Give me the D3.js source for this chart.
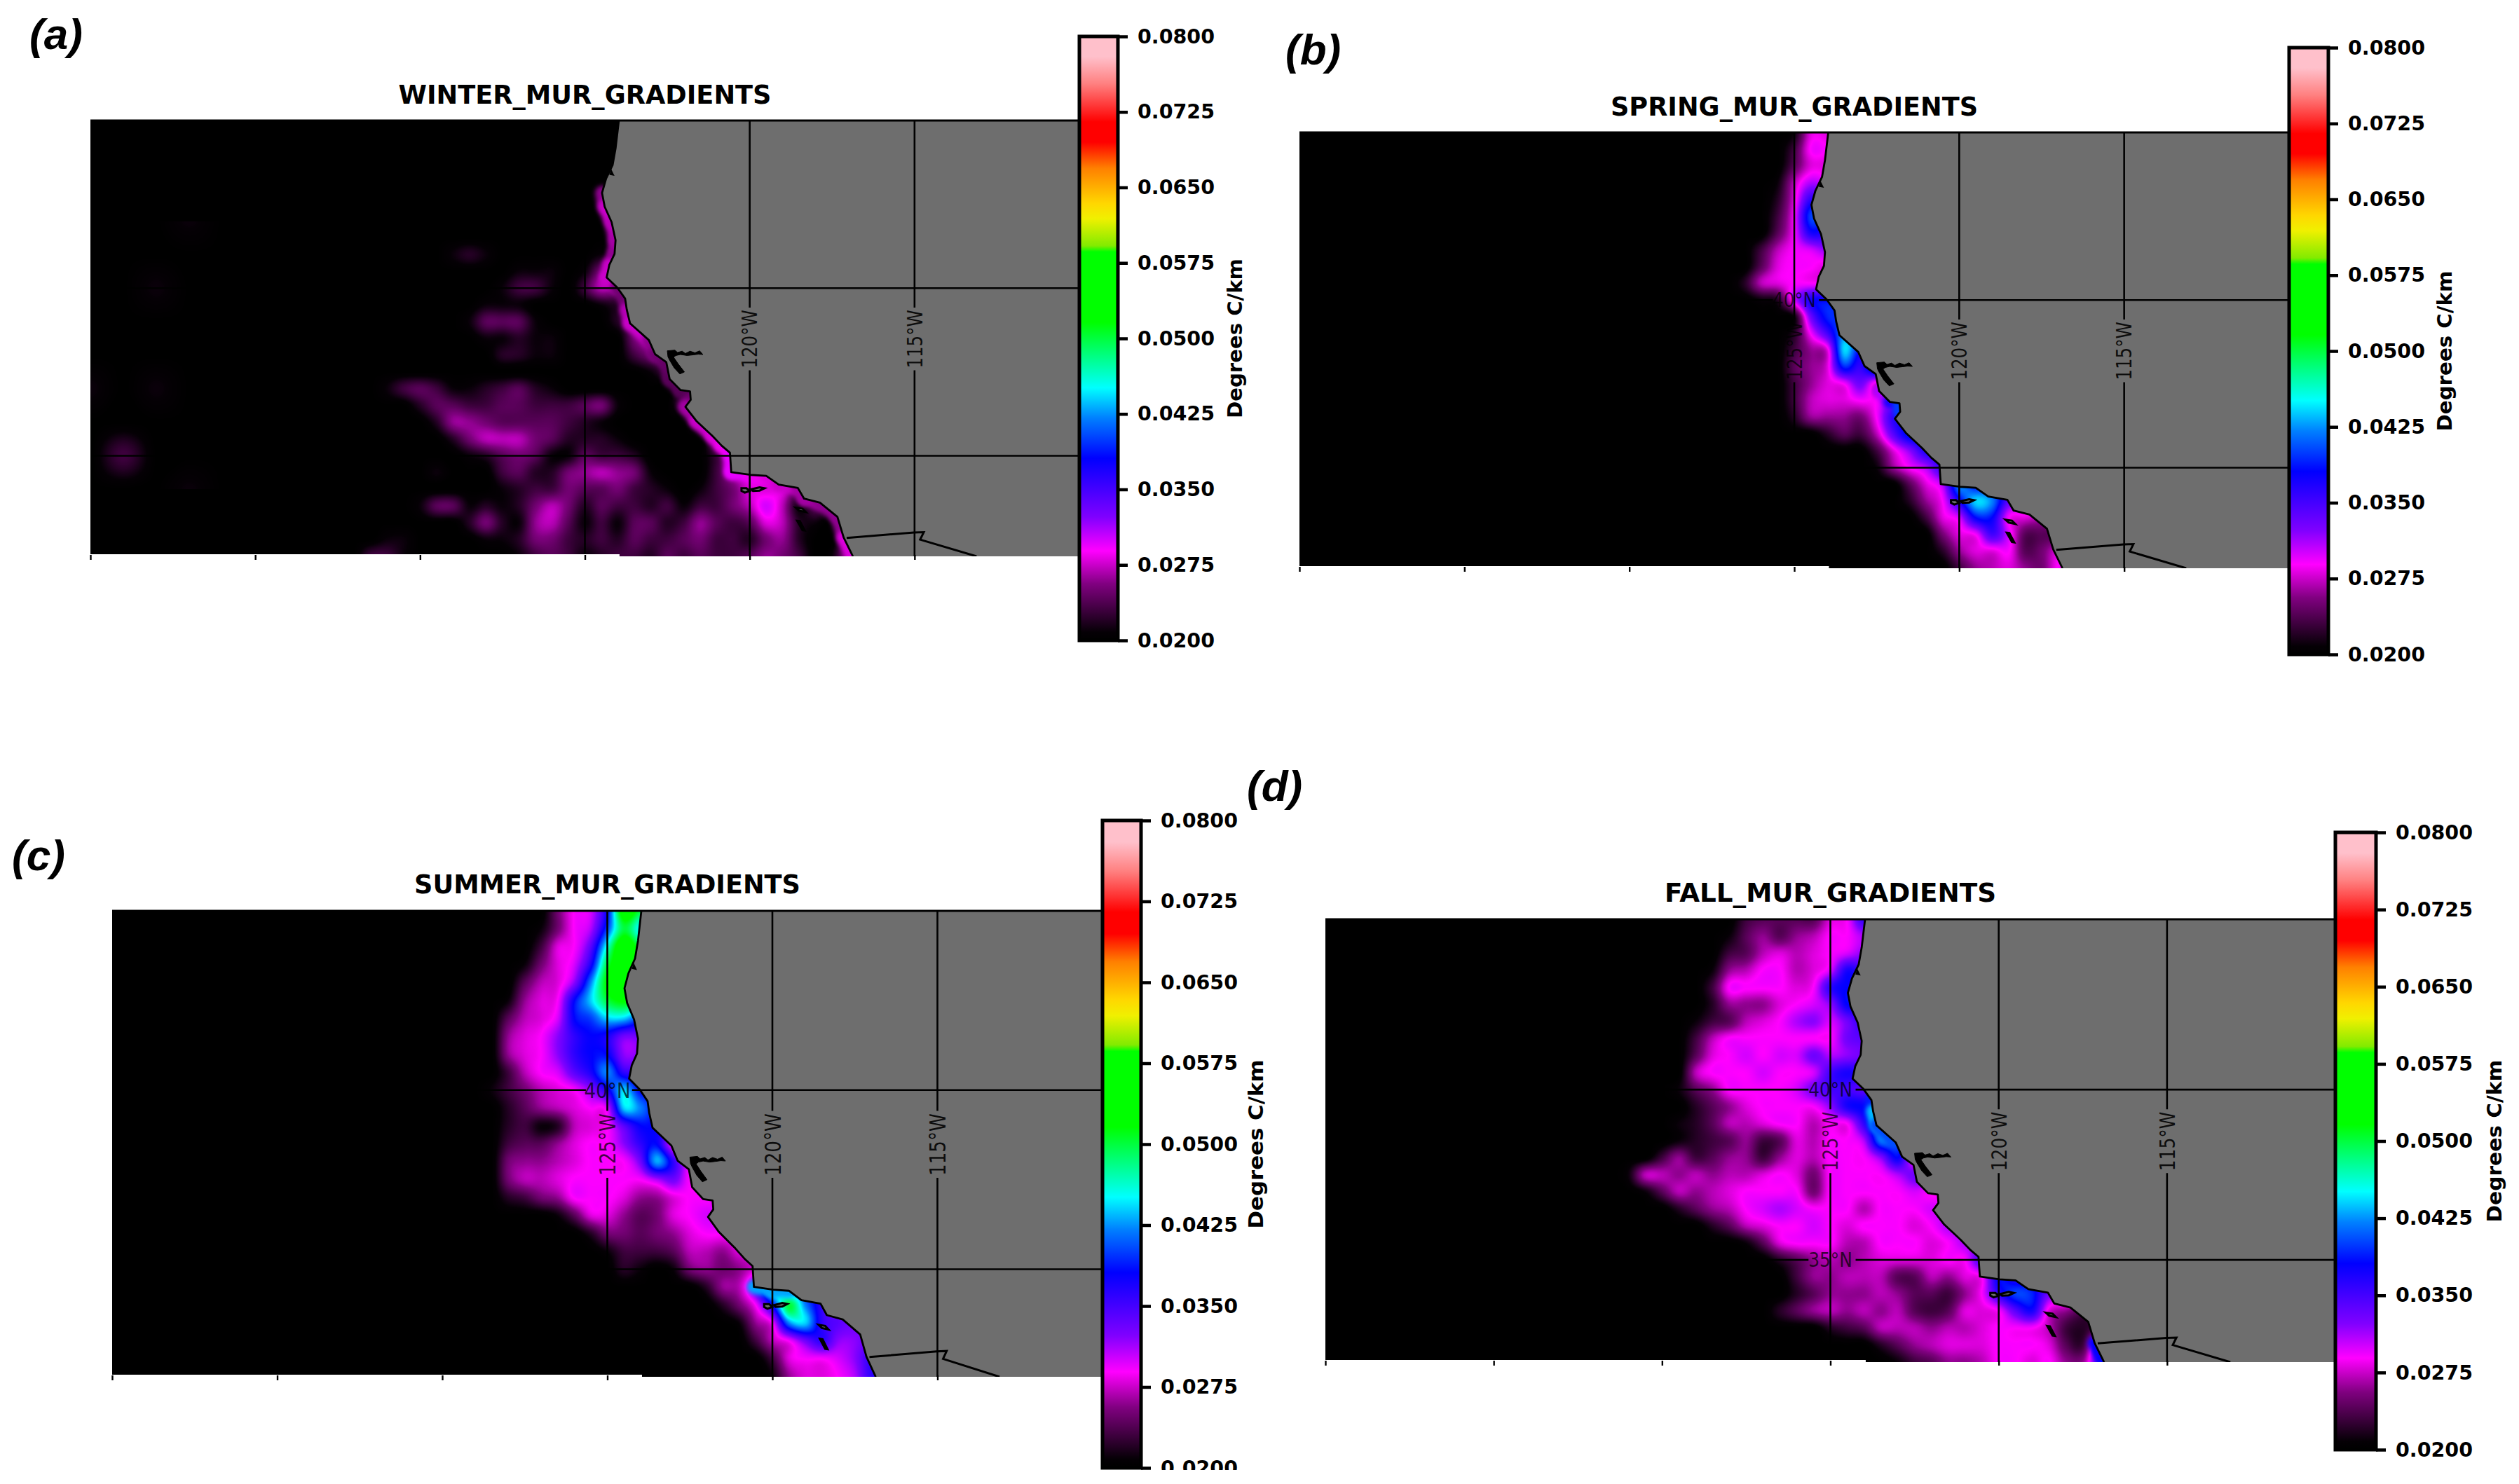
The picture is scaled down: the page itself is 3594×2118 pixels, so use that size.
<!DOCTYPE html>
<html><head><meta charset="utf-8">
<script src="https://cdnjs.cloudflare.com/ajax/libs/d3/7.8.5/d3.min.js"></script>
<style>html,body{margin:0;padding:0;background:#fff}svg{display:block}</style>
</head><body><div id="chart"></div>
<script>
// ---------- DATA ----------
const titles = ["WINTER_MUR_GRADIENTS","SPRING_MUR_GRADIENTS","SUMMER_MUR_GRADIENTS","FALL_MUR_GRADIENTS"];
const letters = ["(a)","(b)","(c)","(d)"];
const cbarTicks = [0.02,0.0275,0.035,0.0425,0.05,0.0575,0.065,0.0725,0.08];
const cbarLabel = "Degrees C/km";
const lonTicks = [-140,-135,-130,-125,-120,-115];
const gridLons = [-125,-120,-115];
const gridLats = [40,35];
const colorValues = [0.02,0.0208,0.0256,0.0289,0.03225,0.0381,0.0421,0.0451,0.0462,0.0516,0.0586,0.0592,0.0619,0.0634,0.0669,0.0695,0.0715,0.0753,0.078,0.08];
const colorNames = ["#000000","#050005","#800080","#ff00ff","#8000ff","#0000ff","#0080ff","#00ffff","#00ffd2","#00ff00","#00ff00","#82eb00","#f0f000","#ffd700","#ff8000","#ff0000","#ff0000","#ff8080","#ffc0cb","#ffc0cb"];

const coastLon = [-123.97,-124.07,-124.16,-124.36,-124.48,-124.40,-124.19,-124.07,-124.10,-124.26,-124.34,-124.02,-123.78,-123.73,-123.63,-123.06,-122.87,-122.53,-122.43,-122.10,-121.81,-121.79,-121.95,-121.62,-121.13,-120.85,-120.60,-120.56,-119.98,-119.50,-119.12,-118.54,-118.35,-117.87,-117.34,-117.15,-116.87];
const coastLat = [45.0,44.17,43.67,43.26,42.84,42.43,41.97,41.43,41.02,40.69,40.32,40.02,39.69,39.36,38.95,38.45,38.03,37.79,37.29,36.96,36.92,36.67,36.46,36.04,35.59,35.30,35.09,34.51,34.43,34.40,34.14,34.04,33.72,33.60,33.18,32.56,32.0];
const borderLon = [-117.06,-115.02,-114.72,-114.83,-113.12];
const borderLat = [32.55,32.71,32.72,32.50,32.0];
const bayDelta = [[-122.5,38.13],[-122.27,38.15],[-122.19,38.08],[-122.05,38.12],[-121.95,38.05],[-121.81,38.12],[-121.66,38.07],[-121.52,38.13],[-121.42,38.02],[-121.56,38.03],[-121.71,38.01],[-121.9,37.99],[-122.1,38.02],[-122.24,37.99],[-122.31,37.94],[-122.17,37.74],[-121.98,37.5],[-122.12,37.44],[-122.29,37.62],[-122.43,37.85],[-122.48,37.95]];
const coosBay = [[-124.26,43.38],[-124.1,43.35],[-124.2,43.55]];
const islands = [
 [[-119.95,34.0],[-119.7,34.06],[-119.55,34.03],[-119.7,33.96],[-119.9,33.95]],
 [[-120.25,34.03],[-120.1,34.03],[-120.0,33.95],[-120.15,33.9],[-120.25,33.95]],
 [[-118.6,33.45],[-118.4,33.42],[-118.3,33.32],[-118.5,33.36]],
 [[-118.56,33.06],[-118.48,33.05],[-118.33,32.77],[-118.4,32.78]]
];

// gradient values along the coast points, in 0.001 C/km
const winterCoast = [20,20,20,20,24,28,27,27,26,26,29,26,24,26,28,27,25,25,24,24,24,24,26,27,28,28,29,30,29,28,28,27,26,27,25,27,29];
const springCoast = [20,20,20,20,20,20,20,20,20,20,20,20,20,20,20,20,20,20,30,32,42,38,20,20,20,20,20,20,20,20,20,20,20,20,20,20,29];
const summerCoast = [20,20,20,20,20,20,20,20,20,20,20,20,20,20,20,20,20,20,20,20,20,20,20,20,20,20,20,38,48,38,20,20,20,20,20,20,20];
const fallCoast = [20,20,20,20,20,20,20,20,20,20,20,20,36,42,45,36,20,20,20,20,20,20,20,20,20,20,20,34,20,20,20,20,20,20,20,34,42];

// Field rows, north to south from 45N to 32N every 0.5 deg. Each row starts at column
// rowStart (columns run from 132W eastward every 0.5 deg). Units: 0.001 C/km.
const winterStart = [0,0,0,0,0,0,0,0,6,10,9,8,7,8,9,18,2,4,5,6,7,5,9,4,6,2,1];
const winterRows = [[],[],[],[],[],[],[],[],
[21,22,21,20,20,20,20,20,20,21],
[21,21,21,20,21,25,23],
[21,23,23,21,20,23,27,25,22],
[21,21,21,20,20,20,20,21,22,22],
[21,24,24,24,21,20,20,20,20,22,24,23],
[21,21,22,21,21,20,20,20,20,25,26,22],
[22,22,21,21,20,20,20,20,23,25,25],
[21,23,22],
[21,23,24,23,21,21,22,23,24,22,21,20,20,20,20,20,20,20,24],
[22,24,24,23,23,24,24,23,23,23,24,25,21,20,20,20,23,22],
[22,26,26,25,24,24,24,24,23,22,21,20,20,20,20,20,25,24],
[22,25,27,27,27,25,24,22,22,22,21,20,20,20,20,20,26,27],
[21,22,24,25,24,21,21,24,23,23,22,20,20,20,20,23,27],
[21,20,20,20,23,24,22,22,25,26,27,26,25,21,20,20,20,23,27,28,29,27],
[21,22,23,23,25,24,24,25,23,22,21,20,21,23,25,28,28,28,24,22],
[21,24,24,21,22,21,22,25,27,25,22,24,23,23,22,23,21,23,23,25,27,30,27,21,24,22],
[20,22,25,22,21,26,27,24,21,23,21,24,24,22,23,26,24,23,24,28,27,22,21,20,23],
[21,21,20,20,20,20,21,21,22,25,25,23,22,23,22,24,23,23,24,25,23,23,22,25,26,22,20,20,26],
[23,23,21,20,20,20,20,20,20,21,23,24,23,21,22,23,23,22,24,23,24,23,23,24,26,25,23,20,21,27]];
// sparse faint patches far offshore in winter: 1-deg grid from 42N, 140W
const winterWest = [
[20,20,20,21,20,20,20,20,20],
[20,20,20,20,20,20,20,20,20],
[20,20,21,20,20,20,20,20,20],
[20,20,20,20,20,20,20,20,20],
[20,20,20,20,20,20,20,20,20],
[21,20,21,20,20,20,20,20,20],
[20,20,20,20,20,20,20,20,20],
[20,23,20,20,20,20,20,20,20],
[20,20,20,21,20,20,20,20,20]];

const springStart = [14,14,14,13,13,13,13,12,12,11,11,14,14,14,14,14,14,14,16,19,19,21,21,22,23,23,24];
const springRows = [
[21,28,28,28],
[23,29,29,29],
[24,28,28,28],
[21,27,31,30,30],
[22,28,36,34,34],
[23,29,40,37,37],
[24,29,37,36,34],
[23,27,29,30,32,32],
[24,28,29,29,28,28],
[22,27,28,29,29,29],
[20,21,22,30,37,38,37],
[21,33,39,39],
[22,29,35,42,42],
[23,26,28,44,38],
[24,26,28,39,36,42],
[23,26,28,29,33,28],
[23,27,28,28,29,29,32],
[22,26,26,26,25,29,36,36],
[22,24,23,27,34,39,38],
[23,28,32,37,37],
[21,26,29,31,36],
[24,28,31,42,38],
[22,26,29,37,44,42,34,33],
[23,28,30,38,38,29,28,27],
[25,28,29,35,30,24,24,24],
[22,26,28,28,29,24,25,28],
[23,26,27,28,26,25,29]];

const summerStart = [11,10,10,9,9,8,8,7,8,8,7,8,8,8,8,8,8,11,13,14,15,20,20,22,23,24,24];
const summerRows = [
[25,29,30,38,54,50,50],
[21,25,29,31,40,50,45,45],
[23,28,29,34,46,55,50,50],
[21,25,28,30,37,50,54,54],
[24,27,28,32,42,52,54,54],
[21,26,28,29,38,44,50,52,50],
[24,27,28,30,38,40,44,44,40],
[20,26,28,29,32,36,38,37,33,33],
[26,28,29,32,36,38,38,32,32],
[23,27,29,30,34,37,42,36,36],
[21,23,25,27,28,29,32,37,44,38,38],
[22,24,26,27,28,29,30,44,42,38],
[22,23,21,22,27,28,29,34,38,38],
[23,24,24,26,28,29,29,32,36,38,29],
[25,26,26,27,28,29,29,29,33,43,36,29],
[25,27,27,28,29,29,29,29,29,31,33,29],
[22,23,25,26,29,29,29,28,26,26,28,29,29],
[21,24,28,28,26,24,25,28,29,30],
[22,25,25,24,25,26,28,29,29,29],
[21,23,23,23,24,27,27,26,28],
[22,21,20,21,25,26,25,26,28],
[22,26,27,34,46,38],
[20,22,25,29,38,50,42,36,33],
[21,26,29,42,44,36,34,33],
[23,27,29,33,36,32,32,34],
[23,28,29,29,30,32,36],
[21,26,28,28,29,31,36]];

const fallStart = [9,8,7,7,7,6,6,6,5,5,5,5,5,4,3,2,3,5,7,9,11,12,12,11,14,16,18];
const fallRows = [
[23,24,24,24,24,28,29,36,36],
[21,24,26,24,26,27,29,29,31,30],
[20,23,24,27,28,27,28,29,30,32],
[21,26,27,29,29,27,28,30,37,35],
[23,29,29,29,29,28,29,36,38,36],
[20,22,26,26,26,28,29,30,32,38,36],
[21,23,24,27,28,29,31,32,30,33,36,34],
[23,27,29,29,29,29,29,29,29,33,34],
[20,24,28,29,30,29,30,30,33,31,32,33],
[20,27,29,29,29,30,29,29,30,35,37,36],
[21,24,26,29,29,29,29,30,33,35,35,34,34],
[20,22,24,26,28,29,29,29,29,32,37,38,38],
[21,22,24,27,27,28,29,29,27,29,29,36,43],
[20,21,22,23,24,26,23,24,28,27,29,29,31,42,40],
[20,23,26,23,24,26,26,23,26,28,27,29,29,29,32,38,29],
[21,27,27,26,27,26,27,27,28,29,28,25,29,29,29,29,31,33],
[21,24,27,26,27,28,29,29,29,29,25,29,29,29,29,29,30,29],
[22,24,26,27,29,30,31,30,29,29,29,27,29,29,29,30],
[22,24,27,28,29,29,30,29,28,29,29,29,28,29,31],
[21,24,28,29,29,29,27,27,29,29,29,28,29,31],
[22,24,26,27,26,27,28,28,28,28,29,29,35],
[23,26,26,27,27,27,24,24,27,26,28,29,38,36],
[22,24,26,26,26,27,26,24,24,23,26,29,36,40,39,33,33],
[22,24,26,27,26,27,26,27,24,23,24,28,28,29,34,37,28,26,24],
[22,23,24,27,27,27,26,27,27,28,29,29,29,27,23,22,24],
[20,22,24,26,27,28,28,28,29,29,29,28,24,23,34],
[21,23,24,26,26,27,29,29,28,29,26,26,35]];

// graticule labels that can be seen in each panel
const innerLonLabels = [[],[-125],[-125],[-125]];
const innerLatLabels = [[],[40],[40],[40,35]];

// ---------- LAYOUT ----------
const W = 3594, H = 2118;
const layout = [
 {mx0:129,mx1:1540,my0:172,my1:794,cx0:1540,cx1:1595,cy0:52,cy1:914,lx:1762,ll:228,tb:148,tw:532,px:42,py:70},
 {mx0:1854,mx1:3266,my0:189,my1:811,cx0:3266,cx1:3322,cy0:68,cy1:934,lx:3488,ll:229,tb:165,tw:524,px:1834,py:92},
 {mx0:160,mx1:1573,my0:1300,my1:1965,cx0:1573,cx1:1628,cy0:1171,cy1:2095,lx:1792,ll:241,tb:1275,tw:551,px:17,py:1242},
 {mx0:1891,mx1:3332,my0:1312,my1:1944,cx0:3332,cx1:3390,cy0:1188,cy1:2069,lx:3559,ll:232,tb:1287,tw:473,px:1779,py:1143}
];
const panels = [
 {rows:winterRows,start:winterStart,coast:winterCoast,west:winterWest},
 {rows:springRows,start:springStart,coast:springCoast},
 {rows:summerRows,start:summerStart,coast:summerCoast},
 {rows:fallRows,start:fallStart,coast:fallCoast}
];
const LAND = "#6e6e6e", DEJAVU = "'DejaVu Sans',sans-serif";

// ---------- SCALES ----------
const colorScale = d3.scaleLinear().domain(colorValues).range(colorNames).interpolate(d3.interpolateRgb).clamp(true);
const LUT_N = 1200;
const lut = new Uint8Array(LUT_N*3);
for(let i=0;i<LUT_N;i++){ const c=d3.rgb(colorScale(0.02+0.06*i/(LUT_N-1))); lut[3*i]=c.r; lut[3*i+1]=c.g; lut[3*i+2]=c.b; }

function makeGrid(rows,start,nc){
  const nr=rows.length, a=new Float32Array(nr*nc).fill(20);
  rows.forEach((row,r)=>{ const s=start?start[r]:0;
    for(let c=0;c<nc;c++){ if(c<s||!row.length) continue; const i=c-s; a[r*nc+c]= i<row.length?row[i]:row[row.length-1]; } });
  return {a,nr,nc};
}
function cr(p0,p1,p2,p3,t){ return p1+0.5*t*(p2-p0+t*(2*p0-5*p1+4*p2-p3+t*(3*(p1-p2)+p3-p0))); }
function sample(g,fc,fr){
  if(fc<-1||fc>g.nc||fr<-1||fr>g.nr) return 20;
  const c=Math.floor(fc), r=Math.floor(fr), tc=fc-c, tr=fr-r, tmp=[0,0,0,0];
  for(let j=-1;j<=2;j++){
    const rr=Math.min(g.nr-1,Math.max(0,r+j));
    const v=[-1,0,1,2].map(k=>{ const cc=c+k; return (cc<0)?20:g.a[rr*g.nc+Math.min(g.nc-1,cc)]; });
    tmp[j+1]=cr(v[0],v[1],v[2],v[3],tc);
  }
  return cr(tmp[0],tmp[1],tmp[2],tmp[3],tr);
}

function fieldImage(p,x,y,w,h){
  const cv=document.createElement("canvas"); cv.width=w; cv.height=h;
  const ctx=cv.getContext("2d"), img=ctx.createImageData(w,h), d=img.data;
  const g=makeGrid(p.rows,p.start,31), gw=p.west?makeGrid(p.west,null,9):null;
  const x0=x.range()[0], y0=y.range()[0];
  for(let py=0;py<h;py++){
    const lat=y.invert(y0+py+0.5), fr=(45-lat)/0.5, frw=(42-lat);
    for(let px=0;px<w;px++){
      const lon=x.invert(x0+px+0.5), fc=(lon+132)/0.5;
      let v=20;
      if(fc>=-1) v=sample(g,fc,fr);
      else if(gw&&frw>=0&&frw<=8) v=sample(gw,lon+140,frw);
      v=Math.max(20,Math.min(80,v));
      const i=Math.round((v-20)/60*(LUT_N-1)), o=4*(py*w+px);
      d[o]=lut[3*i]; d[o+1]=lut[3*i+1]; d[o+2]=lut[3*i+2]; d[o+3]=255;
    }
  }
  ctx.putImageData(img,0,0);
  // narrow coastal band
  ctx.save(); ctx.filter="blur(3px)"; ctx.lineCap="round"; ctx.lineWidth=20;
  for(let i=0;i<p.coast.length-1;i++){
    if(p.coast[i]<=20||p.coast[i+1]<=20) continue;
    const val=(p.coast[i]+p.coast[i+1])/2;
    ctx.strokeStyle=colorScale(val/1000);
    ctx.beginPath();
    ctx.moveTo(x(coastLon[i])-x0,y(coastLat[i])-y0);
    ctx.lineTo(x(coastLon[i+1])-x0,y(coastLat[i+1])-y0);
    ctx.stroke();
  }
  ctx.restore();
  return cv.toDataURL("image/png");
}

// ---------- DRAW ----------
const svg=d3.select("#chart").append("svg").attr("width",W).attr("height",H).attr("viewBox",`0 0 ${W} ${H}`);
svg.append("rect").attr("width",W).attr("height",H).attr("fill","#fff");
const grad=svg.append("defs").append("linearGradient").attr("id","cb").attr("x1",0).attr("y1",1).attr("x2",0).attr("y2",0);
colorValues.forEach((v,i)=>grad.append("stop").attr("offset",(v-0.02)/0.06).attr("stop-color",colorNames[i]));

panels.forEach((p,idx)=>{
  const L=layout[idx], g=svg.append("g");
  const x=d3.scaleLinear().domain([-140,-110]).range([L.mx0,L.mx1]);
  const y=d3.scaleLinear().domain([45,32]).range([L.my0,L.my1]);
  const clipId="clip"+idx;
  svg.select("defs").append("clipPath").attr("id",clipId).append("rect").attr("x",L.mx0).attr("y",L.my0).attr("width",L.mx1-L.mx0).attr("height",L.my1-L.my0);
  g.append("image").attr("x",L.mx0).attr("y",L.my0).attr("width",L.mx1-L.mx0).attr("height",L.my1-L.my0)
    .attr("preserveAspectRatio","none").attr("href",fieldImage(p,x,y,L.mx1-L.mx0,L.my1-L.my0));
  const m=g.append("g").attr("clip-path",`url(#${clipId})`);
  const line=d3.line().x(d=>x(d[0])).y(d=>y(d[1]));
  const coast=coastLon.map((v,i)=>[v,coastLat[i]]);
  m.append("path").attr("d",line(coast.concat([[-110,32],[-110,45]]))+"Z").attr("fill",LAND);
  m.append("path").attr("d",line(coast)).attr("fill","none").attr("stroke","#000").attr("stroke-width",2.8).attr("stroke-linejoin","round");
  m.append("path").attr("d",line(borderLon.map((v,i)=>[v,borderLat[i]]))).attr("fill","none").attr("stroke","#000").attr("stroke-width",3);
  m.append("path").attr("d",line(bayDelta)+"Z").attr("fill","#000").attr("stroke","#000").attr("stroke-width",1);
  m.append("path").attr("d",line(coosBay)+"Z").attr("fill","#000");
  islands.forEach(isl=>m.append("path").attr("d",line(isl)+"Z").attr("fill",LAND).attr("stroke","#000").attr("stroke-width",3));
  // graticule, interrupted where its inline labels sit
  const gl=m.append("g").attr("stroke","#000").attr("stroke-width",2.6);
  gridLons.forEach(lon=>{
    const labelled=lon>-125||innerLonLabels[idx].includes(lon);
    if(labelled){
      gl.append("line").attr("x1",x(lon)).attr("x2",x(lon)).attr("y1",y(45)).attr("y2",y(39.42));
      gl.append("line").attr("x1",x(lon)).attr("x2",x(lon)).attr("y1",y(37.55)).attr("y2",y(32));
    } else gl.append("line").attr("x1",x(lon)).attr("x2",x(lon)).attr("y1",y(45)).attr("y2",y(32));
  });
  gridLats.forEach(lat=>{
    if(innerLatLabels[idx].includes(lat)){
      gl.append("line").attr("x1",x(-140)).attr("x2",x(-125.65)).attr("y1",y(lat)).attr("y2",y(lat));
      gl.append("line").attr("x1",x(-124.25)).attr("x2",x(-110)).attr("y1",y(lat)).attr("y2",y(lat));
    } else gl.append("line").attr("x1",x(-140)).attr("x2",x(-110)).attr("y1",y(lat)).attr("y2",y(lat));
  });
  const fs=24.5*(L.my1-L.my0)/622*0.98+0.5;
  [-120,-115].concat(innerLonLabels[idx]).forEach(lon=>m.append("text").attr("transform",`translate(${x(lon)},${y(38.48)}) rotate(-90) scale(1,1.22)`)
    .attr("text-anchor","middle").attr("dy","0.36em").attr("font-family",DEJAVU).attr("font-size",fs).attr("fill","#000").attr("fill-opacity",lon<-120?0.72:0.88)
    .text(Math.abs(lon)+"°W"));
  innerLatLabels[idx].forEach(lat=>m.append("text").attr("transform",`translate(${x(-125)},${y(lat)}) scale(1,1.15)`)
    .attr("text-anchor","middle").attr("dy","0.36em").attr("font-family",DEJAVU).attr("font-size",fs).attr("fill","#000").attr("fill-opacity",0.72)
    .text(lat+"°N"));
  // top spine
  g.append("line").attr("x1",L.mx0).attr("x2",L.mx1).attr("y1",L.my0).attr("y2",L.my0).attr("stroke","#000").attr("stroke-width",3);
  // bottom: ocean raster stops slightly above the land raster
  g.append("rect").attr("x",L.mx0).attr("y",L.my1-3).attr("width",x(-123.95)-L.mx0).attr("height",3.5).attr("fill","#fff");
  const ax=g.append("g").attr("transform",`translate(0,${L.my1-2})`).call(d3.axisBottom(x).tickValues(lonTicks).tickSize(7).tickFormat(""));
  ax.select(".domain").remove();
  ax.selectAll("line").attr("stroke","#000").attr("stroke-width",2.4);

  // title and letter
  g.append("text").attr("x",(L.mx0+L.mx1)/2).attr("y",L.tb).attr("text-anchor","middle").attr("font-family",DEJAVU).attr("font-weight","bold")
    .attr("font-size",38).attr("textLength",L.tw).attr("lengthAdjust","spacingAndGlyphs").attr("fill","#000").text(titles[idx]);
  g.append("text").attr("x",L.px).attr("y",L.py).attr("font-family","'Liberation Sans',Arial,sans-serif").attr("font-weight","bold").attr("font-style","italic")
    .attr("font-size",62).attr("fill","#000").text(letters[idx]);

  // colourbar
  const cy=d3.scaleLinear().domain([0.02,0.08]).range([L.cy1,L.cy0]);
  g.append("rect").attr("x",L.cx0).attr("y",L.cy0).attr("width",L.cx1-L.cx0).attr("height",L.cy1-L.cy0).attr("fill","url(#cb)").attr("stroke","#000").attr("stroke-width",5);
  const cax=g.append("g").attr("transform",`translate(${L.cx1},0)`)
    .call(d3.axisRight(cy).tickValues(cbarTicks).tickSize(14).tickPadding(14).tickFormat(d3.format(".4f")));
  cax.select(".domain").remove();
  cax.selectAll("line").attr("stroke","#000").attr("stroke-width",4.5);
  cax.selectAll("text").attr("fill","#000").style("font-family",DEJAVU).style("font-size","28.5px").style("font-weight","bold");
  g.append("text").attr("transform",`translate(${L.lx},${(L.cy0+L.cy1)/2}) rotate(-90)`).attr("text-anchor","middle").attr("dy","0.36em")
    .attr("font-family",DEJAVU).attr("font-weight","bold").attr("font-size",28).attr("textLength",L.ll).attr("lengthAdjust","spacingAndGlyphs").attr("fill","#000").text(cbarLabel);
});
// the source figure is cropped just below the third colourbar
svg.append("rect").attr("x",0).attr("y",2098).attr("width",W).attr("height",H-2098).attr("fill","#fff");
</script></body></html>
